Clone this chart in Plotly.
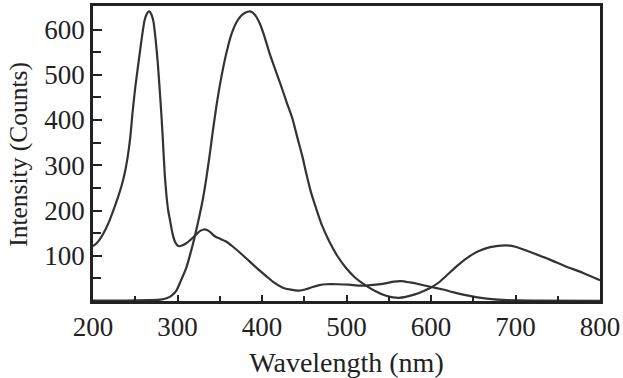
import plotly.graph_objects as go

# Excitation spectrum (sharp peak ~267 nm)
ex_wavelength = [200, 204, 208, 214, 220, 226, 230, 234, 238, 241, 244, 247, 250, 253, 255.5, 258, 261, 263.5,
                 266.5, 269, 271.5, 274, 276.5, 279, 281, 283, 285, 287, 289, 291, 294, 297, 300, 302, 306,
                 310, 314, 320, 326, 331, 335, 339, 342, 346, 350, 357, 365, 375, 385, 395, 405, 414, 424,
                 434, 444, 452, 460, 468, 476, 490, 503, 515, 523, 535, 546, 556, 565, 575, 586, 600, 613,
                 627, 641, 655, 672, 690, 720, 800]
ex_counts = [121, 127, 136, 155, 180, 210, 232, 256, 287, 318, 360, 420, 472, 515, 550, 585, 620, 634,
             640, 634, 618, 580, 530, 465, 410, 345, 278, 232, 200, 180, 150, 131, 123, 121, 123,
             127, 133, 143, 154, 158, 157, 152, 146, 141, 138, 132, 121, 105, 88, 71, 55, 41, 30,
             25, 23, 26, 31, 35, 37, 37, 36, 34, 34, 36, 39, 43, 44, 41, 37, 31, 26,
             19, 13, 8, 4, 2, 1, 0.5]

# Emission spectrum (broad peaks ~386 nm and ~688 nm)
em_wavelength = [200, 240, 265, 280, 287, 293, 298.7, 304, 310.5, 315, 320, 325, 330, 334, 338, 342, 346,
                 350, 354, 358, 363, 369.5, 375, 380, 386, 391, 397, 402, 408.7, 415, 422.5, 429, 436, 442,
                 448, 452, 458, 464, 471, 479.5, 489, 499, 510, 523, 535, 546, 555, 562, 570, 580, 590, 601,
                 610, 620, 633, 645, 656, 670, 688, 700, 719, 740, 759, 780, 800]
em_counts = [1, 1, 2, 3, 6, 12, 23, 45, 74, 103, 139, 180, 225, 270, 322, 378, 430,
             476, 515, 549, 585, 615, 630, 637, 640, 634, 615, 590, 549, 515, 476, 440, 403, 360,
             318, 285, 240, 205, 167, 132, 100, 74, 52, 34, 21, 12, 8, 7, 9, 14, 21, 31,
             42, 59, 81, 98, 110, 119, 123, 120, 107, 92, 77, 62, 46]

y_tick_values = [100, 200, 300, 400, 500, 600]
x_tick_values = [200, 300, 400, 500, 600, 700, 800]

line_style = dict(color="#333333", width=2.2, shape="spline", smoothing=0.6)

fig = go.Figure()
fig.add_trace(go.Scatter(x=ex_wavelength, y=ex_counts, mode="lines", line=line_style, showlegend=False))
fig.add_trace(go.Scatter(x=em_wavelength, y=em_counts, mode="lines", line=line_style, showlegend=False))

font_family = "Liberation Serif"
fig.update_layout(
    width=623, height=378,
    margin=dict(l=93, r=21, t=3, b=77),
    paper_bgcolor="white", plot_bgcolor="white",
    font=dict(family=font_family, size=27, color="#222222"),
)
fig.update_xaxes(
    range=[200, 800], tickvals=x_tick_values,
    ticks="inside", ticklen=6, tickwidth=1.5, tickcolor="#222222",
    minor=dict(dtick=50, ticks="inside", ticklen=5, tickwidth=1.5, tickcolor="#222222"),
    showline=True, linecolor="#222222", linewidth=2.5, mirror=True,
    showgrid=False, zeroline=False,
    title=dict(text="Wavelength (nm)", standoff=12, font=dict(size=28)),
)
fig.update_yaxes(
    range=[0, 652], tickvals=y_tick_values,
    ticks="inside", ticklen=9, tickwidth=1.5, tickcolor="#222222",
    minor=dict(dtick=50, ticks="inside", ticklen=8, tickwidth=1.5, tickcolor="#222222"),
    showline=True, linecolor="#222222", linewidth=2.5, mirror=True,
    showgrid=False, zeroline=False,
)
fig.add_annotation(
    text="Intensity (Counts)", textangle=-90,
    xref="paper", yref="paper", x=-0.147, y=0.497,
    xanchor="center", yanchor="middle", showarrow=False,
    font=dict(family=font_family, size=25.5, color="#222222"),
)

fig.write_html("out.html")
